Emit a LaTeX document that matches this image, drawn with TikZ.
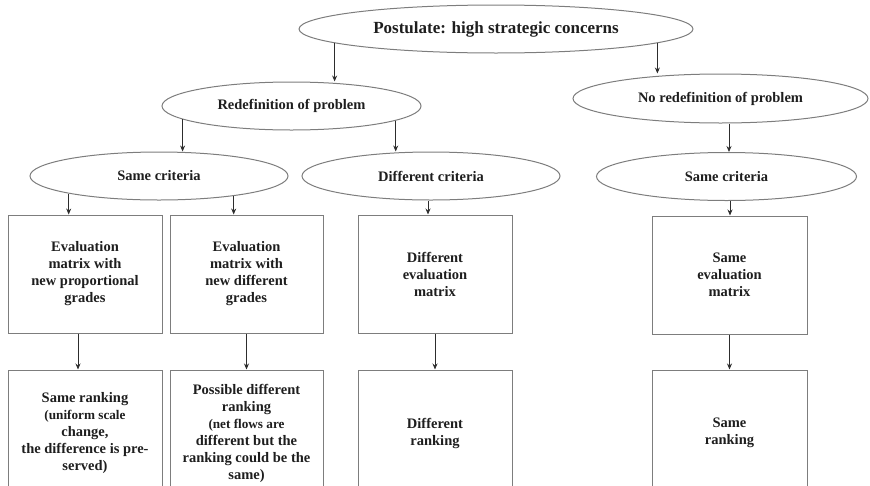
\documentclass[tikz,border=0pt]{standalone}
\usepackage{fontspec}
\setmainfont{Liberation Serif}
\usepackage{tikz}
\usetikzlibrary{shapes.geometric,arrows.meta}

\definecolor{linegray}{RGB}{125,125,125}
\definecolor{arrowgray}{RGB}{45,45,45}
\definecolor{textgray}{RGB}{30,30,30}

\newcommand{\postfont}{\fontsize{17}{19}\selectfont\bfseries}
\newcommand{\labfont}{\fontsize{14.5}{17}\selectfont\bfseries}
\newcommand{\notefont}{\fontsize{13.2}{13.8}\selectfont\bfseries}

\tikzset{
  oval/.style={ellipse, draw=linegray, line width=1pt, inner sep=0pt,
    minimum height=48pt, text=textgray, font=\labfont},
  card/.style={rectangle, draw=linegray, line width=1pt, inner sep=2pt,
    minimum width=154pt, minimum height=118pt, align=center,
    text=textgray, font=\labfont},
  arr/.style={-{Stealth[length=6pt,width=5pt]}, draw=arrowgray, line width=0.8pt}
}

\begin{document}
\begin{tikzpicture}[x=1pt,y=-1pt]
  \useasboundingbox (0,0) rectangle (870,485);
  \clip (0,0) rectangle (870,485);
  % ellipses
  \node[oval,minimum width=394pt,font=\postfont] (top) at (496,29) {Postulate: high strategic concerns};
  \node[oval,minimum width=259pt] (redef) at (291.5,106) {Redefinition of problem};
  \node[oval,minimum width=295pt,minimum height=49pt] (noredef) at (720.5,98.5) {No redefinition of problem};
  \node[oval,minimum width=258pt] (same1) at (159,176) {Same criteria};
  \node[oval,minimum width=258pt] (diff) at (431,176) {Different criteria};
  \node[oval,minimum width=260pt] (same2) at (726.5,176.5) {Same criteria};
  % matrices
  \node[card] (mat1) at (85,274) {Evaluation\\matrix with\\new proportional\\grades};
  \node[card,minimum width=153pt] (mat2) at (246.5,274) {Evaluation\\matrix with\\new different\\grades};
  \node[card] (mat3) at (435,274) {Different\\evaluation\\matrix};
  \node[card,minimum width=155pt] (mat4) at (729.5,275) {Same\\evaluation\\matrix};
  % rankings
  \node[card,minimum height=126pt] (rank1) at (85,433)
    {Same ranking\\\notefont (uniform scale\\change,\\the difference is pre-\\served)};
  \node[card,minimum width=153pt,minimum height=126pt] (rank2) at (246.5,433)
    {Possible different\\ranking\\\notefont (net flows are\\different but the\\ranking could be the\\same)};
  \node[card,minimum height=126pt] (rank3) at (435,433) {Different\\ranking};
  \node[card,minimum width=155pt,minimum height=126pt] (rank4) at (729.5,433) {Same\\ranking};
  % arrows
  \draw[arr] (top.185) -- (top.185 |- redef.north);
  \draw[arr] (top.-5) -- (top.-5 |- noredef.north);
  \draw[arr] (redef.187) -- (redef.187 |- same1.north);
  \draw[arr] (redef.-8) -- (redef.-8 |- diff.north);
  \draw[arr] ([xshift=8.5pt]noredef.south) -- ([xshift=8.5pt]noredef.south |- same2.north);
  \draw[arr] (same1.191) -- (same1.191 |- mat1.north);
  \draw[arr] (same1.-15) -- (same1.-15 |- mat2.north);
  \draw[arr] ([xshift=-3pt]diff.south) -- ([xshift=-3pt]diff.south |- mat3.north);
  \draw[arr] ([xshift=3.5pt]same2.south) -- ([xshift=3.5pt]same2.south |- mat4.north);
  \draw[arr] ([xshift=-7pt]mat1.south) -- ([xshift=-7pt]mat1.south |- rank1.north);
  \draw[arr] (mat2.south) -- (rank2.north);
  \draw[arr] (mat3.south) -- (rank3.north);
  \draw[arr] (mat4.south) -- (rank4.north);
\end{tikzpicture}
\end{document}
